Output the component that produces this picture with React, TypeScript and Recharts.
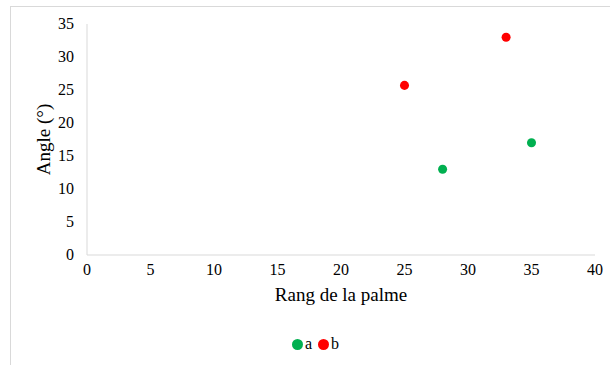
import { ScatterChart, Scatter, XAxis, YAxis, ZAxis, Legend } from 'recharts'

const seriesA = [
  { x: 28, y: 13 },
  { x: 35, y: 17 },
]
const seriesB = [
  { x: 25, y: 25.7 },
  { x: 33, y: 33 },
]
const xTicks = [0, 5, 10, 15, 20, 25, 30, 35, 40]
const yTicks = [0, 5, 10, 15, 20, 25, 30, 35]

const font = 'Liberation Serif'
const axisColor = '#d9d9d9'

function XTick({ x, y, payload }: any) {
  return (
    <text x={x} y={y + 16} textAnchor="middle" fontFamily={font} fontSize={16} fill="#000">
      {payload.value}
    </text>
  )
}

function YTick({ x, y, payload }: any) {
  return (
    <text x={x - 2} y={y + 5} textAnchor="end" fontFamily={font} fontSize={16} fill="#000">
      {payload.value}
    </text>
  )
}

function LegendBox({ payload }: any) {
  return (
    <div style={{ display: 'flex', justifyContent: 'center', paddingLeft: 42, fontFamily: font, fontSize: 16, color: '#000' }}>
      {(payload || []).map((p: any) => (
        <span key={p.value} style={{ display: 'inline-flex', alignItems: 'center', marginRight: 6 }}>
          <svg width={11} height={11} style={{ marginRight: 2 }}>
            <circle cx={5.5} cy={5.5} r={5.5} fill={p.color} />
          </svg>
          {p.value}
        </span>
      ))}
    </div>
  )
}

export default function App() {
  return (
    <div style={{ position: 'absolute', left: 0, top: 0, width: 610, height: 365, overflow: 'hidden', background: '#fff', fontFamily: font }}>
      <div
        style={{
          position: 'absolute',
          left: 10,
          top: 6,
          width: 640,
          height: 400,
          borderLeft: `1px solid ${axisColor}`,
          borderTop: `1px solid ${axisColor}`,
        }}
      />
      <div style={{ position: 'absolute', left: 0, top: 0 }}>
        <ScatterChart width={610} height={365} margin={{ top: 24, right: 15, bottom: 0, left: 0 }}>
          <XAxis
            type="number"
            dataKey="x"
            domain={[0, 40]}
            ticks={xTicks}
            interval={0}
            height={80}
            tickSize={0}
            tickMargin={4}
            stroke={axisColor}
            tick={<XTick />}
            label={{ value: 'Rang de la palme', position: 'insideTop', offset: 33, fill: '#000', fontSize: 19, fontFamily: font }}
          />
          <YAxis
            type="number"
            dataKey="y"
            domain={[0, 35]}
            ticks={yTicks}
            interval={0}
            width={87}
            tickSize={0}
            tickMargin={11}
            stroke={axisColor}
            tick={<YTick />}
            label={{ value: 'Angle (°)', angle: -90, position: 'center', fill: '#000', fontSize: 19, fontFamily: font }}
          />
          <ZAxis range={[135, 135]} />
          <Legend verticalAlign="bottom" height={30} content={<LegendBox />} />
          <Scatter name="a" data={seriesA} fill="#00B050" isAnimationActive={false} />
          <Scatter name="b" data={seriesB} fill="#FF0000" isAnimationActive={false} />
        </ScatterChart>
      </div>
    </div>
  )
}
